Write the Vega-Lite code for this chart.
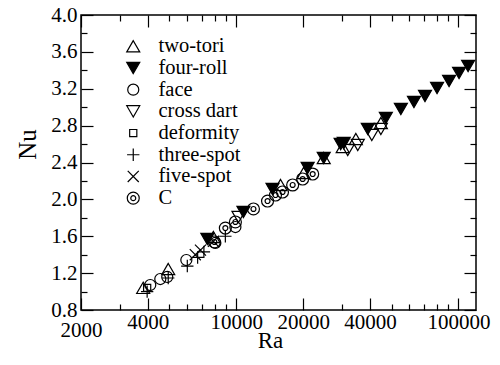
{
  "$schema": "https://vega.github.io/schema/vega-lite/v6.json",
  "width": 395,
  "height": 295,
  "autosize": {"type": "none"},
  "padding": {"left": 81, "top": 15, "right": 24, "bottom": 55},
  "config": {
    "view": {"stroke": "black", "strokeWidth": 1.5},
    "font": "Liberation Serif",
    "axis": {
      "domain": false, "grid": false, "tickColor": "black", "tickWidth": 1.2,
      "labelFont": "Liberation Serif", "labelFontSize": 21, "labelColor": "black",
      "titleFont": "Liberation Serif", "titleFontSize": 23, "titleFontWeight": "normal", "titleColor": "black",
      "labelFlush": false, "labelOverlap": false
    },
    "legend": {
      "labelFont": "Liberation Serif", "labelFontSize": 20.5, "labelColor": "black"
    }
  },
  "data": {
    "values": [
      {"Ra": 3810, "Nu": 1.04, "type": "two-tori"},
      {"Ra": 4940, "Nu": 1.245, "type": "two-tori"},
      {"Ra": 7890, "Nu": 1.592, "type": "two-tori"},
      {"Ra": 15820, "Nu": 2.156, "type": "two-tori"},
      {"Ra": 20100, "Nu": 2.286, "type": "two-tori"},
      {"Ra": 24760, "Nu": 2.449, "type": "two-tori"},
      {"Ra": 30140, "Nu": 2.568, "type": "two-tori"},
      {"Ra": 34540, "Nu": 2.655, "type": "two-tori"},
      {"Ra": 44770, "Nu": 2.828, "type": "two-tori"},
      {"Ra": 7410, "Nu": 1.57, "type": "four-roll"},
      {"Ra": 10770, "Nu": 1.863, "type": "four-roll"},
      {"Ra": 14560, "Nu": 2.112, "type": "four-roll"},
      {"Ra": 20960, "Nu": 2.34, "type": "four-roll"},
      {"Ra": 24760, "Nu": 2.449, "type": "four-roll"},
      {"Ra": 29500, "Nu": 2.6, "type": "four-roll"},
      {"Ra": 30460, "Nu": 2.611, "type": "four-roll"},
      {"Ra": 39100, "Nu": 2.763, "type": "four-roll"},
      {"Ra": 47140, "Nu": 2.883, "type": "four-roll"},
      {"Ra": 55080, "Nu": 2.98, "type": "four-roll"},
      {"Ra": 63090, "Nu": 3.056, "type": "four-roll"},
      {"Ra": 70740, "Nu": 3.121, "type": "four-roll"},
      {"Ra": 80160, "Nu": 3.208, "type": "four-roll"},
      {"Ra": 90800, "Nu": 3.284, "type": "four-roll"},
      {"Ra": 100700, "Nu": 3.371, "type": "four-roll"},
      {"Ra": 110600, "Nu": 3.447, "type": "four-roll"},
      {"Ra": 4100, "Nu": 1.071, "type": "face"},
      {"Ra": 4550, "Nu": 1.136, "type": "face"},
      {"Ra": 4890, "Nu": 1.158, "type": "face"},
      {"Ra": 5960, "Nu": 1.342, "type": "face"},
      {"Ra": 8050, "Nu": 1.527, "type": "face"},
      {"Ra": 9910, "Nu": 1.7, "type": "face"},
      {"Ra": 10230, "Nu": 1.809, "type": "cross dart"},
      {"Ra": 31760, "Nu": 2.536, "type": "cross dart"},
      {"Ra": 35240, "Nu": 2.59, "type": "cross dart"},
      {"Ra": 40760, "Nu": 2.698, "type": "cross dart"},
      {"Ra": 44770, "Nu": 2.763, "type": "cross dart"},
      {"Ra": 3970, "Nu": 1.04, "type": "deformity"},
      {"Ra": 3970, "Nu": 1.0, "type": "three-spot"},
      {"Ra": 4940, "Nu": 1.147, "type": "three-spot"},
      {"Ra": 6020, "Nu": 1.277, "type": "three-spot"},
      {"Ra": 6700, "Nu": 1.37, "type": "three-spot"},
      {"Ra": 7150, "Nu": 1.43, "type": "three-spot"},
      {"Ra": 8930, "Nu": 1.6, "type": "three-spot"},
      {"Ra": 6540, "Nu": 1.4, "type": "five-spot"},
      {"Ra": 6900, "Nu": 1.45, "type": "five-spot"},
      {"Ra": 7890, "Nu": 1.545, "type": "five-spot"},
      {"Ra": 7970, "Nu": 1.538, "type": "C"},
      {"Ra": 8930, "Nu": 1.689, "type": "C"},
      {"Ra": 9910, "Nu": 1.755, "type": "C"},
      {"Ra": 11950, "Nu": 1.896, "type": "C"},
      {"Ra": 13830, "Nu": 1.982, "type": "C"},
      {"Ra": 15020, "Nu": 2.047, "type": "C"},
      {"Ra": 16150, "Nu": 2.08, "type": "C"},
      {"Ra": 17940, "Nu": 2.156, "type": "C"},
      {"Ra": 19900, "Nu": 2.221, "type": "C"},
      {"Ra": 22080, "Nu": 2.275, "type": "C"}
    ]
  },
  "resolve": {"axis": {"x": "independent", "y": "independent"}},
  "layer": [
    {
      "mark": {"type": "point", "filled": false, "stroke": "black", "strokeWidth": 1.2, "opacity": 1, "size": 169},
      "encoding": {
        "x": {"field": "Ra", "type": "quantitative",
          "scale": {"type": "log", "domain": [2000, 120000], "nice": false},
          "axis": {"orient": "bottom", "title": "Ra", "values": [2000, 4000, 10000, 20000, 40000, 100000], "format": "d", "tickSize": -12,
            "labelFont": "Liberation Serif",
            "labelPadding": {"condition": {"test": "datum.value == 2000", "value": 21}, "value": 13},
            "titleX": 189, "titleY": 37, "titleBaseline": "alphabetic"}},
        "y": {"field": "Nu", "type": "quantitative",
          "scale": {"domain": [0.8, 4.0], "nice": false, "zero": false},
          "axis": {"orient": "left", "title": "Nu", "values": [0.8, 1.2, 1.6, 2.0, 2.4, 2.8, 3.2, 3.6, 4.0], "format": ".1f", "tickSize": -12, "labelPadding": 16,
            "labelFont": "Liberation Serif",
            "titleX": -46, "titleY": 129, "titleBaseline": "alphabetic", "titleFontSize": 25}},
        "shape": {"field": "type", "type": "nominal", "title": null,
          "scale": {"domain": ["two-tori", "four-roll", "face", "cross dart", "deformity", "three-spot", "five-spot", "C"],
            "range": ["triangle-up", "triangle-down", "M0.85,0A0.85,0.85,0,1,1,-0.85,0A0.85,0.85,0,1,1,0.85,0Z", "triangle-down", "M-0.55,-0.55H0.55V0.55H-0.55Z", "M-0.95,0L0.95,0M0,-0.95L0,0.95", "M-0.85,-0.85L0.85,0.85M-0.85,0.85L0.85,-0.85", "M0.92,0A0.92,0.92,0,1,1,-0.92,0A0.92,0.92,0,1,1,0.92,0M0.38,0A0.38,0.38,0,1,1,-0.38,0A0.38,0.38,0,1,1,0.38,0"]},
          "legend": {"orient": "none", "legendX": 42, "legendY": 21, "padding": 0, "rowPadding": 0.7, "labelOffset": 15, "symbolStrokeWidth": 1.2, "symbolSize": 169, "labelFont": "Liberation Serif"}},
        "fill": {"field": "type", "type": "nominal", "title": null,
          "scale": {"domain": ["two-tori", "four-roll", "face", "cross dart", "deformity", "three-spot", "five-spot", "C"],
            "range": ["transparent", "black", "transparent", "transparent", "transparent", "transparent", "transparent", "transparent"]}}
      }
    },
    {
      "mark": {"type": "point", "opacity": 0},
      "encoding": {
        "x": {"field": "Ra", "type": "quantitative",
          "axis": {"orient": "bottom", "title": null, "labels": false, "values": [3000, 5000, 6000, 7000, 8000, 9000, 30000, 50000, 60000, 70000, 80000, 90000], "tickSize": -6}},
        "y": {"field": "Nu", "type": "quantitative",
          "axis": {"orient": "left", "title": null, "labels": false, "values": [1.0, 1.4, 1.8, 2.2, 2.6, 3.0, 3.4, 3.8], "tickSize": -6}}
      }
    },
    {
      "mark": {"type": "point", "opacity": 0},
      "encoding": {
        "x": {"field": "Ra", "type": "quantitative",
          "axis": {"orient": "top", "title": null, "labels": false, "values": [2000, 4000, 10000, 20000, 40000, 100000], "tickSize": -12}},
        "y": {"field": "Nu", "type": "quantitative",
          "axis": {"orient": "right", "title": null, "labels": false, "values": [0.8, 1.2, 1.6, 2.0, 2.4, 2.8, 3.2, 3.6, 4.0], "tickSize": -12}}
      }
    },
    {
      "mark": {"type": "point", "opacity": 0},
      "encoding": {
        "x": {"field": "Ra", "type": "quantitative",
          "axis": {"orient": "top", "title": null, "labels": false, "values": [3000, 5000, 6000, 7000, 8000, 9000, 30000, 50000, 60000, 70000, 80000, 90000], "tickSize": -6}},
        "y": {"field": "Nu", "type": "quantitative",
          "axis": {"orient": "right", "title": null, "labels": false, "values": [1.0, 1.4, 1.8, 2.2, 2.6, 3.0, 3.4, 3.8], "tickSize": -6}}
      }
    }
  ]
}
